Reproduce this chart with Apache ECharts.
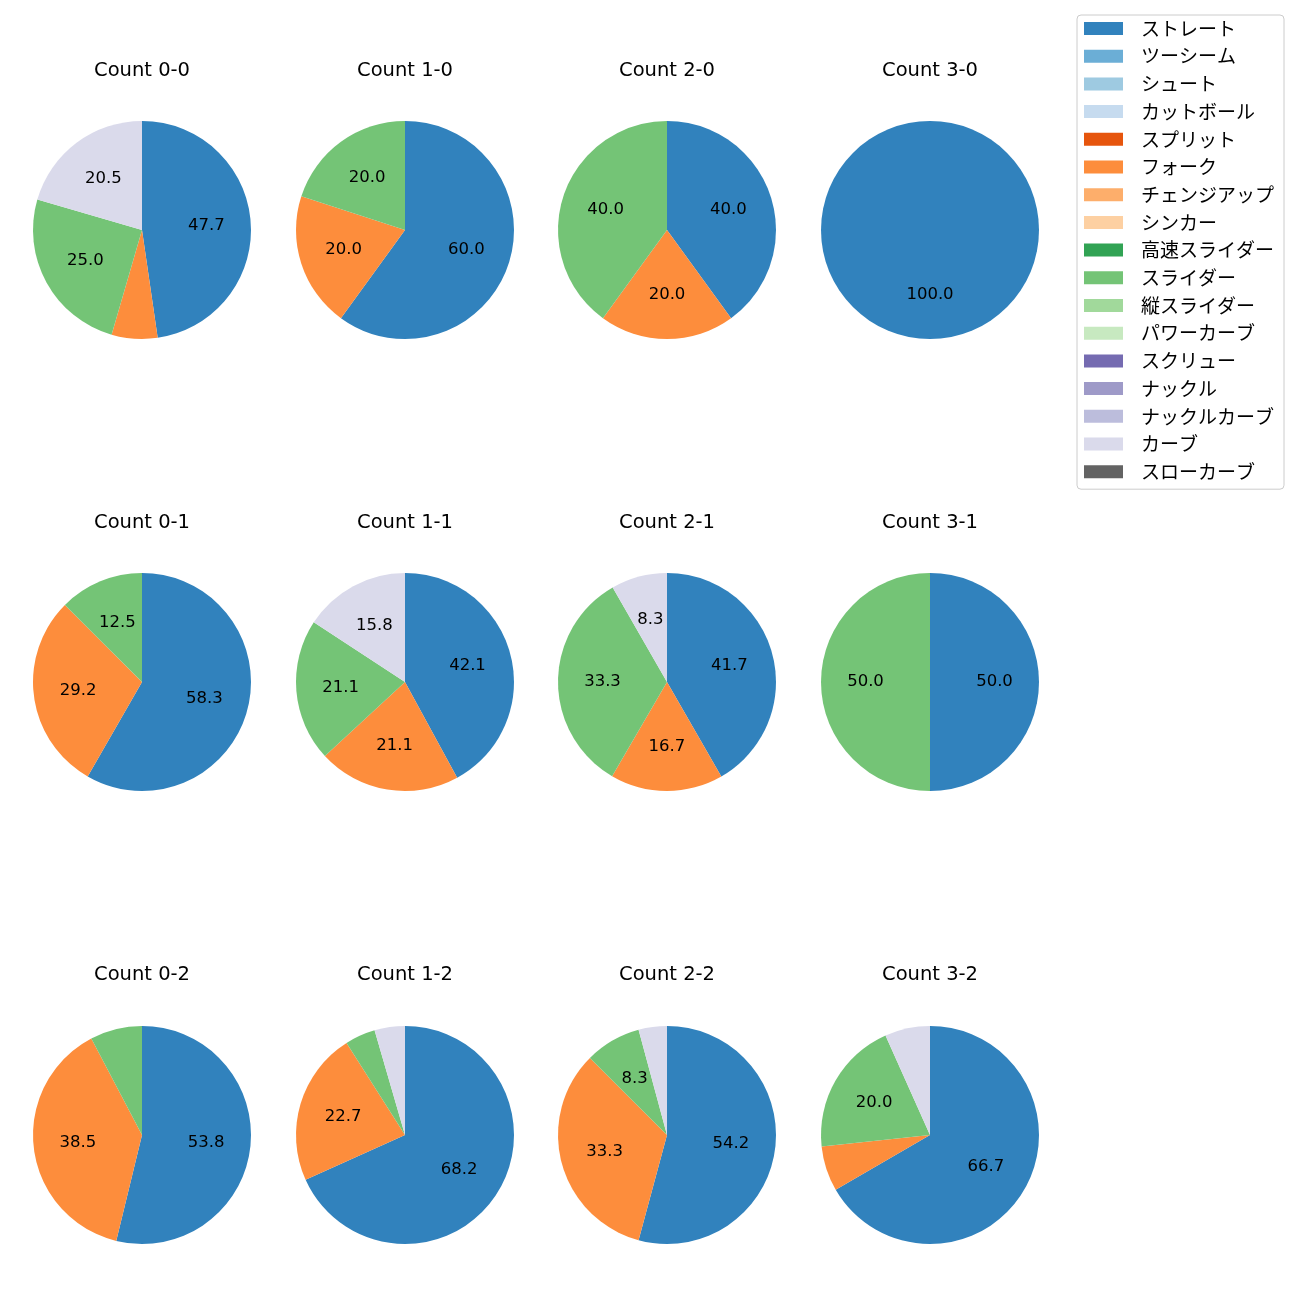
<!DOCTYPE html>
<html>
<head>
<meta charset="utf-8">
<script src="https://cdn.jsdelivr.net/npm/echarts@6/dist/echarts.min.js"></script>
<style>html,body{margin:0;padding:0;background:#fff}#chart{width:1300px;height:1300px}</style>
</head>
<body>
<div id="chart"></div>
<script>
const pitchTypes = ['ストレート','ツーシーム','シュート','カットボール','スプリット','フォーク','チェンジアップ','シンカー','高速スライダー','スライダー','縦スライダー','パワーカーブ','スクリュー','ナックル','ナックルカーブ','カーブ','スローカーブ'];
const pitchColors = ['#3182bd','#6baed6','#9ecae1','#c6dbef','#e6550d','#fd8d3c','#fdae6b','#fdd0a2','#31a354','#74c476','#a1d99b','#c7e9c0','#756bb1','#9e9ac8','#bcbddc','#dadaeb','#636363'];
const countLabels = ['Count 0-0','Count 1-0','Count 2-0','Count 3-0','Count 0-1','Count 1-1','Count 2-1','Count 3-1','Count 0-2','Count 1-2','Count 2-2','Count 3-2'];
// percentage shares per count (same order as countLabels)
const straight = [47.7, 60.0, 40.0, 100.0, 58.3, 42.1, 41.7, 50.0, 53.8, 68.2, 54.2, 66.7];
const fork     = [6.8, 20.0, 20.0, 0, 29.2, 21.1, 16.7, 0, 38.5, 22.7, 33.3, 6.7];
const slider   = [25.0, 20.0, 40.0, 0, 12.5, 21.1, 33.3, 50.0, 7.7, 4.5, 8.3, 20.0];
const curve    = [20.5, 0, 0, 0, 0, 15.8, 8.3, 0, 0, 4.5, 4.2, 6.7];

const FONT = '"DejaVu Sans", "Noto Sans CJK JP", sans-serif';
const JFONT = '"Noto Sans CJK JP", "Noto Sans", sans-serif';
const colX = [142, 405, 667, 930];
const rowY = [230, 682, 1135];
const titleY = [71, 523, 975];
const R = 109;

function valuesFor(i) {
  const v = new Array(pitchTypes.length).fill(0);
  v[pitchTypes.indexOf('ストレート')] = straight[i];
  v[pitchTypes.indexOf('フォーク')] = fork[i];
  v[pitchTypes.indexOf('スライダー')] = slider[i];
  v[pitchTypes.indexOf('カーブ')] = curve[i];
  return v;
}

const pieSeries = [];
const labelSeries = [];
const graphics = [];
countLabels.forEach((name, i) => {
  const c = i % 4, r = Math.floor(i / 4);
  const vals = valuesFor(i);
  const data = pitchTypes.map((p, k) => ({ name: p, value: vals[k], itemStyle: { color: pitchColors[k] } }));
  pieSeries.push({
    type: 'pie', center: [colX[c], rowY[r]], radius: [0, R],
    startAngle: 90, clockwise: true, silent: true, animation: false,
    label: { show: false }, labelLine: { show: false },
    itemStyle: { borderWidth: 0 },
    data: data
  });
  labelSeries.push({
    type: 'pie', center: [colX[c], rowY[r]], radius: [14, R],
    startAngle: 90, clockwise: true, silent: true, animation: false,
    itemStyle: { color: 'rgba(0,0,0,0)', borderWidth: 0 },
    label: {
      show: true, position: 'inside', color: '#000', fontSize: 16.5, fontFamily: FONT,
      formatter: p => p.value >= 8 ? p.value.toFixed(1) : ''
    },
    labelLine: { show: false },
    data: pitchTypes.map((p, k) => ({ name: p, value: vals[k] }))
  });
  graphics.push({
    type: 'text', x: colX[c], y: titleY[r], silent: true,
    style: { text: name, align: 'center', verticalAlign: 'middle', fill: '#000', font: '19.5px ' + FONT }
  });
});

const chart = echarts.init(document.getElementById('chart'), null, { renderer: 'canvas' });
chart.setOption({
  animation: false,
  backgroundColor: '#fff',
  legend: {
    data: pitchTypes,
    orient: 'vertical', left: 1077, top: 15,
    icon: 'rect', itemWidth: 39, itemHeight: 13, itemGap: 8.7,
    padding: [4, 10, 8, 7],
    borderColor: '#cccccc', borderWidth: 1, borderRadius: 4,
    selectedMode: false,
    textStyle: { fontSize: 19, lineHeight: 19, color: '#000', fontFamily: JFONT, padding: [0, 0, 0, 13] }
  },
  graphic: graphics,
  series: pieSeries.concat(labelSeries)
});
</script>
</body>
</html>
